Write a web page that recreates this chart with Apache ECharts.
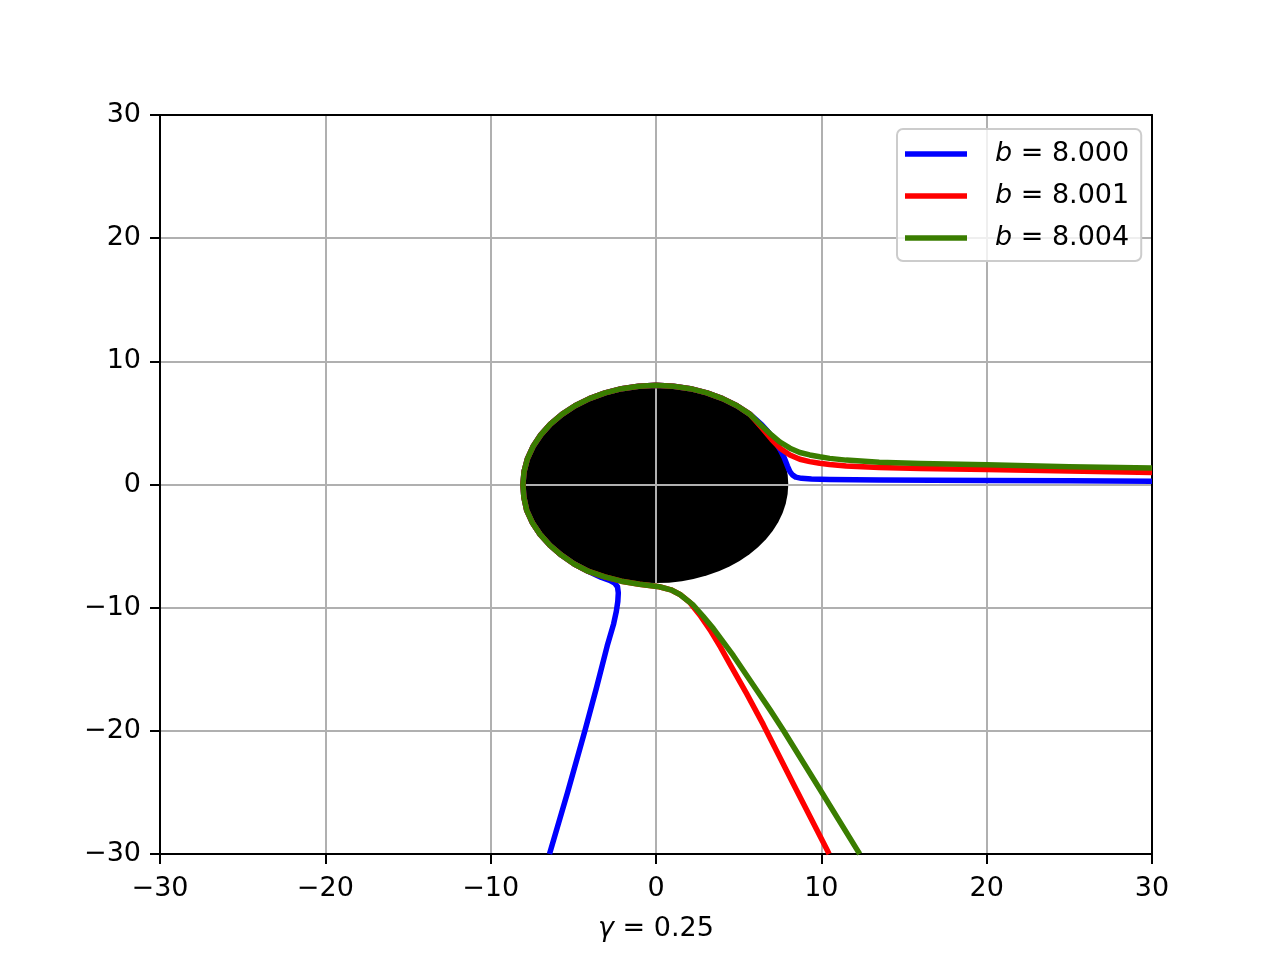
<!DOCTYPE html>
<html><head><meta charset="utf-8">
<script src="https://cdn.jsdelivr.net/npm/echarts@6/dist/echarts.min.js"></script>
<style>html,body{margin:0;padding:0;background:#fff}#c{width:1280px;height:960px}</style>
</head><body><div id="c"></div>
<script>
// ---- data ----
const xTicks = [-30, -20, -10, 0, 10, 20, 30];
const yTicks = [-30, -20, -10, 0, 10, 20, 30];
const seriesNames = ['b = 8.000', 'b = 8.001', 'b = 8.004'];
const gammaLabel = '0.25';
// black disk: [x centre, y centre, radius]
const diskData = [[0, 0, 8]];
// incoming parts (from the right edge towards the disk)
const blueIn = [[30,0.27],[25,0.3],[20,0.33],[13.5,0.36],[10.5,0.4],[9.4,0.44],[8.8,0.5],[8.45,0.6],[8.25,0.78],[8.1,1.05],[7.95,1.5],[7.75,2.2],[7.5,2.84],[7.2,3.55],[6.8,4.25],[6.4,4.85]];
const redIn = [[30,0.98],[25,1.1],[20,1.22],[16,1.3],[13.5,1.38],[11.5,1.5],[10.5,1.62],[9.9,1.72],[9.3,1.86],[8.7,2.05],[8.1,2.4],[7.5,2.95],[7.0,3.65],[6.4,4.6]];
const greenIn = [[30,1.34],[25,1.45],[20,1.6],[16,1.7],[13.5,1.8],[11.5,1.98],[10.5,2.12],[9.9,2.25],[9.3,2.4],[8.7,2.6],[8.1,2.95],[7.5,3.45],[7.0,4.0],[6.4,4.75]];
// shared part hugging the disk (top, left side, lower left)
const arcPath = [[5.69,5.69],[4.9,6.39],[4.03,6.97],[3.08,7.44],[2.08,7.78],[1.05,7.98],[0,8.05],[-1.05,7.98],[-2.08,7.78],[-3.08,7.44],[-4.03,6.97],[-4.9,6.39],[-5.69,5.69],[-6.39,4.9],[-6.97,4.03],[-7.44,3.08],[-7.78,2.08],[-7.98,1.05],[-8.05,0],[-7.99,-1.05],[-7.82,-2.1],[-7.48,-3.1],[-7.01,-4.05],[-6.42,-4.93],[-5.73,-5.73],[-4.95,-6.45],[-4.08,-7.06]];
// outgoing parts (leaving the disk downwards)
const blueOut = [[-3.3,-7.55],[-2.8,-7.78],[-2.5,-8.0],[-2.33,-8.3],[-2.28,-8.8],[-2.31,-9.5],[-2.4,-10.3],[-2.56,-11.3],[-2.95,-13.1],[-3.6,-16.5],[-4.3,-20.0],[-5.35,-25.0],[-6.42,-29.9],[-6.44,-30]];
const redOut = [[-3.1,-7.5],[-2.1,-7.85],[-1.0,-8.1],[0.2,-8.3],[0.9,-8.55],[1.45,-8.93],[2.06,-9.6],[2.65,-10.6],[3.27,-11.8],[3.9,-13.2],[4.48,-14.6],[5.49,-17.0],[6.49,-19.5],[8.3,-24.3],[10.32,-29.6],[10.47,-30]];
const greenOut = [[-3.1,-7.5],[-2.1,-7.85],[-1.0,-8.1],[0.2,-8.3],[0.9,-8.55],[1.45,-8.93],[2.26,-9.8],[2.85,-10.7],[3.47,-11.7],[4.68,-13.9],[5.89,-16.3],[6.9,-18.3],[7.7,-19.95],[9.92,-24.76],[12.14,-29.6],[12.32,-30]];
const colors = ['#0000ff', '#ff0000', '#3a7d00'];

const FONT = 'DejaVu Sans';
const FS = 27;
const minus = v => String(v).replace('-', '\u2212');

const paths = [
  blueIn.concat(arcPath, blueOut),
  redIn.concat(arcPath, redOut),
  greenIn.concat(arcPath, greenOut)
];

const chart = echarts.init(document.getElementById('c'), null, {renderer: 'canvas'});
const lineSeries = seriesNames.map((n, i) => ({
  type: 'line', name: n, data: paths[i], showSymbol: false, symbol: 'none',
  smooth: false, clip: true, z: 3 + i,
  lineStyle: {color: colors[i], width: 5.5, join: 'round'}, itemStyle: {color: colors[i]},
  emphasis: {disabled: true}
}));

chart.setOption({
  animation: false,
  backgroundColor: '#fff',
  grid: {left: 160, top: 115, right: 128, bottom: 106, containLabel: false},
  legend: {
    orient: 'vertical', left: 897, top: 129,
    padding: [10, 12, 8, 8],
    itemGap: 12, itemWidth: 62, itemHeight: 5.5, icon: 'rect',
    backgroundColor: 'rgba(255,255,255,0.8)', borderColor: '#cccccc', borderWidth: 2, borderRadius: 6,
    data: seriesNames,
    formatter: n => '{s|}{i|b}{n|' + n.slice(1) + '}',
    textStyle: {
      color: '#000', fontFamily: FONT, fontSize: FS, lineHeight: 30,
      rich: {
        s: {width: 23},
        i: {fontStyle: 'italic', fontFamily: FONT, fontSize: FS, color: '#000'},
        n: {fontFamily: FONT, fontSize: FS, color: '#000'}
      }
    }
  },
  xAxis: [{
    type: 'value', min: -30, max: 30, interval: 10, position: 'bottom',
    axisLine: {onZero: false, lineStyle: {color: '#000', width: 2}},
    axisTick: {length: 10, lineStyle: {color: '#000', width: 2}},
    axisLabel: {color: '#000', fontFamily: FONT, fontSize: FS, margin: 21,
      formatter: v => xTicks.includes(v) ? minus(v) : ''},
    splitLine: {show: true, lineStyle: {color: '#b0b0b0', width: 2}},
    name: '{g|\u03b3}{n| = ' + gammaLabel + '}', nameLocation: 'middle', nameGap: 61,
    nameTextStyle: {color: '#000', fontFamily: FONT, fontSize: FS,
      rich: {g: {fontStyle: 'italic', fontFamily: FONT, fontSize: FS, color: '#000'},
             n: {fontFamily: FONT, fontSize: FS, color: '#000'}}}
  }, {
    type: 'value', min: -30, max: 30, interval: 10, position: 'top',
    axisLine: {onZero: false, lineStyle: {color: '#000', width: 2}},
    axisTick: {show: false}, axisLabel: {show: false}, splitLine: {show: false}
  }],
  yAxis: [{
    type: 'value', min: -30, max: 30, interval: 10, position: 'left',
    axisLine: {onZero: false, lineStyle: {color: '#000', width: 2}},
    axisTick: {length: 10, lineStyle: {color: '#000', width: 2}},
    axisLabel: {color: '#000', fontFamily: FONT, fontSize: FS, margin: 19,
      formatter: v => yTicks.includes(v) ? minus(v) : ''},
    splitLine: {show: true, lineStyle: {color: '#b0b0b0', width: 2}}
  }, {
    type: 'value', min: -30, max: 30, interval: 10, position: 'right',
    axisLine: {onZero: false, lineStyle: {color: '#000', width: 2}},
    axisTick: {show: false}, axisLabel: {show: false}, splitLine: {show: false}
  }],
  series: [{
    type: 'custom', name: 'disk', data: diskData, z: -1, silent: true, clip: true,
    xAxisIndex: 0, yAxisIndex: 0,
    encode: {x: 0, y: 1},
    renderItem: (params, api) => {
      const c = api.coord([api.value(0), api.value(1)]);
      const s = api.size([api.value(2), api.value(2)]);
      return {type: 'circle', x: c[0], y: c[1], scaleX: 1, scaleY: s[1] / s[0],
        shape: {cx: 0, cy: 0, r: s[0]}, style: {fill: '#000', stroke: null}};
    }
  }].concat(lineSeries)
});
</script></body></html>
